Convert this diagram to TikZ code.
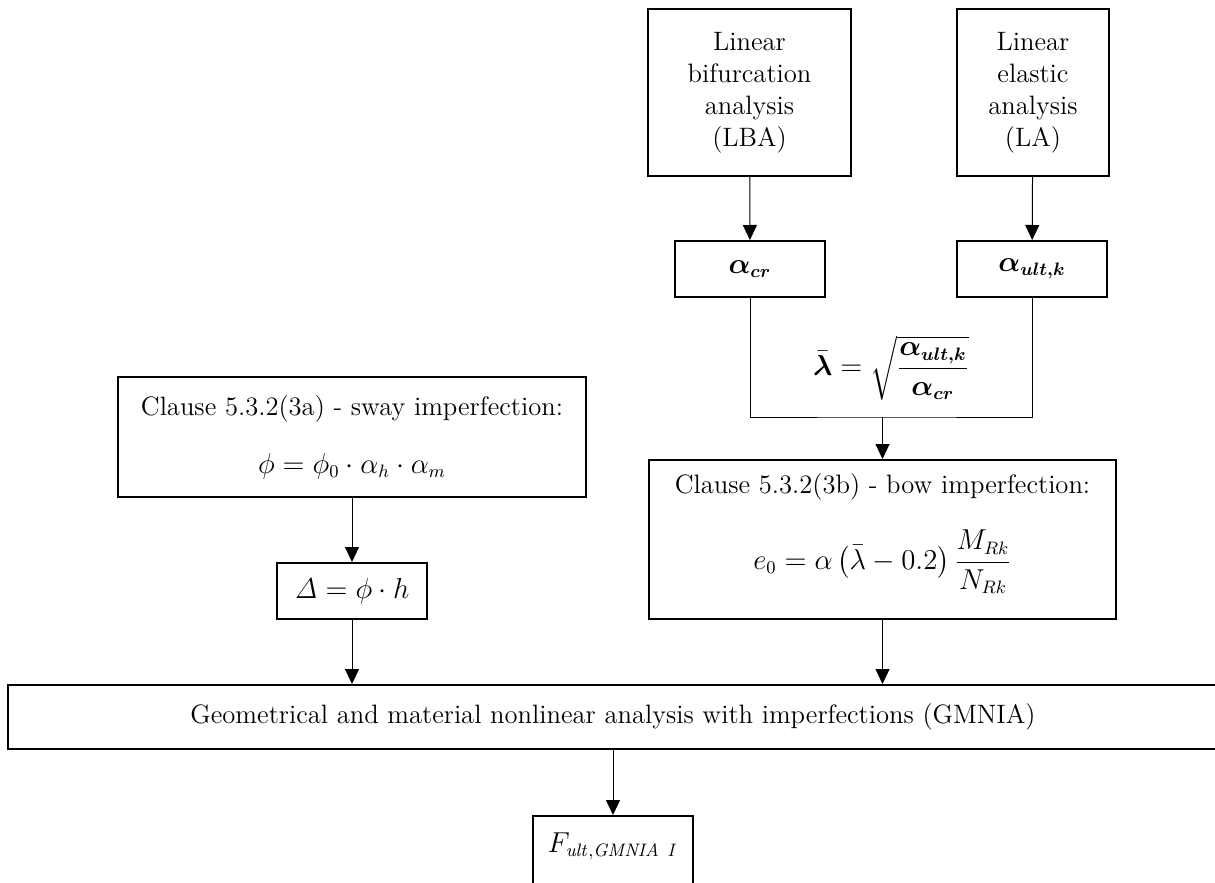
\documentclass[tikz,border=0pt]{standalone}
\usepackage{bm}
\usepackage{amsmath}
\usepackage{amssymb}
\usepackage{tikz}
\usetikzlibrary{arrows.meta}
\usetikzlibrary{calc}

\begin{document}
\begin{tikzpicture}[x = 0.5pt, y = -0.5pt, font = \fontsize{13.3}{16}\selectfont]
			\useasboundingbox (0, 0) rectangle (1215, 883);
			\clip (0, 0) rectangle (1215, 883);
			
			\begin{scope}[every node/.style={rectangle, draw, line width = 1pt, align = center}]
			\node (lba) [minimum width = 101.5pt, minimum height = 83.5pt] at (749.5, 92.5) {Linear\\bifurcation\\analysis\\(LBA)};
			\node (la) [minimum width = 76pt, minimum height = 83.5pt] at (1033, 92.5) {Linear\\elastic\\analysis\\(LA)};
			\node (acr) [minimum width = 75pt, minimum height = 28pt] at (750, 269) {$\bm{\alpha}_{\bm{cr}}$};
			\node (ault) [minimum width = 75pt, minimum height = 28pt] at (1032, 269) {$\bm{\alpha}_{\bm{ult,k}}$};
			\end{scope}
			
			\begin{scope}[every node/.style={rectangle, draw, line width = 1pt, align = center}]
			\node (sway) [minimum width = 234pt, minimum height = 60pt] at (352, 437) {Clause 5.3.2(3a) - sway imperfection:\\[13pt] $\phi = \phi_0 \cdot \alpha_h \cdot \alpha_m$};
			\node (delta) [minimum width = 75pt, minimum height = 28pt] at (352, 591) {$\mathit{\Delta} = \phi \cdot h$};
			\node (bow) [minimum width = 233.5pt, minimum height = 79.5pt, text depth = 18pt] at (882.5, 539.5) {Clause 5.3.2(3b) - bow imperfection:\\[14pt] $\displaystyle e_0 = \alpha\left(\bar{\lambda} - 0.2\right)\frac{M_{Rk}}{N_{Rk}}$};
			\end{scope}
			
			\begin{scope}[every node/.style={rectangle, draw, line width = 1pt, align = center}]
			\node (gmnia) [minimum width = 605pt, minimum height = 32pt] at (613, 717) {Geometrical and material nonlinear analysis with imperfections (GMNIA)};
			\node (fult) [minimum width = 80pt, anchor = north, inner ysep = 6pt, text height = 12pt, text depth = 30pt] at (613, 815) {$F_{\mathit{ult,GMNIA\ I}}$};
			\end{scope}
			
			\node (lam) at (891, 368) {$\displaystyle \bar{\bm{\lambda}} = \sqrt{\frac{\bm{\alpha}_{\bm{ult,k}}}{\bm{\alpha}_{\bm{cr}}}}$};
			\coordinate (merge) at (882.5, 417);
			
			\draw [line width = 0.5pt] (acr.south) |- (merge) -| (ault.south);
			
			\begin{scope}[>={Triangle[width = 7pt, length = 7.5pt]},
			every edge/.style = {draw = black, line width = 0.5pt}]
			\path [->] 	(lba) edge (acr)
			(la) edge (ault)
			(merge) edge (bow)
			(sway) edge (delta)
			(delta) edge (delta |- gmnia.north)
			(bow) edge (bow |- gmnia.north)
			(gmnia) edge (fult);
			\end{scope}
			
			\end{tikzpicture}
\end{document}
